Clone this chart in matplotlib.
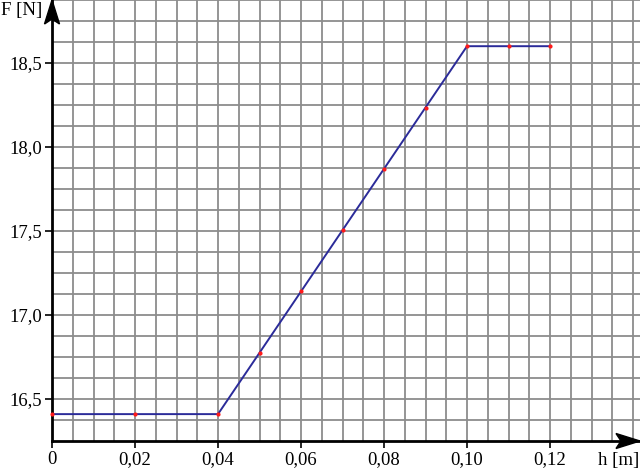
import matplotlib
matplotlib.use("Agg")
import matplotlib.pyplot as plt
from matplotlib.patches import Polygon
import numpy as np

h = [0.00, 0.02, 0.04, 0.05, 0.06, 0.07, 0.08, 0.09, 0.10, 0.11, 0.12]
F = [16.41, 16.41, 16.41, 16.775, 17.14, 17.505, 17.87, 18.235, 18.60, 18.60, 18.60]
xticks = [0, 0.02, 0.04, 0.06, 0.08, 0.10, 0.12]
xlabels = ["0", "0,02", "0,04", "0,06", "0,08", "0,10", "0,12"]
yticks = [16.5, 17.0, 17.5, 18.0, 18.5]
ylabels = ["16,5", "17,0", "17,5", "18,0", "18,5"]

plt.rcParams['font.family'] = ['Liberation Serif', 'DejaVu Serif']
W, H = 640, 472
fig = plt.figure(figsize=(6.4, 4.72), dpi=100)
ax = fig.add_axes([52/W, 31/H, 588/W, 441/H])
xmax = 588/83*0.02
ax.set_xlim(0, xmax)
ax.set_ylim(16.25, 18.875)

for gx in np.arange(0.005, 0.1401, 0.005):
    ax.axvline(gx, color='#8c8c8c', lw=1.3, zorder=1)
for gy in np.arange(16.375, 18.876, 0.125):
    ax.axhline(gy, color='#8c8c8c', lw=1.3, zorder=1)

ax.plot(h, F, color='#2b2b99', lw=1.4, zorder=3)
ax.scatter(h, F, color='#ff1a1a', s=9, zorder=7, linewidths=0, clip_on=False)

ax.set_xticks(xticks)
ax.set_xticklabels(xlabels)
ax.set_yticks(yticks)
ax.set_yticklabels(ylabels)
ax.tick_params(direction='out', length=5, width=1.2, labelsize=13.5, color='black', pad=2)
for s in ['top', 'right']:
    ax.spines[s].set_visible(False)
for s in ['left', 'bottom']:
    ax.spines[s].set_linewidth(2)
    ax.spines[s].set_zorder(5)

def px(pts):
    return [(x / W, 1 - y / H) for x, y in pts]

fig.patches.append(Polygon(px([(52, 0), (44.5, 24), (52, 19), (59.5, 24)]),
                           closed=True, transform=fig.transFigure, color='black', zorder=10))
fig.patches.append(Polygon(px([(640, 441), (616, 433.5), (621, 441), (616, 448.5)]),
                           closed=True, transform=fig.transFigure, color='black', zorder=10))

fig.text(1/W, 1 - 10/H, 'F [N]', fontsize=13.5, va='center', ha='left')
fig.text(639/W, 1 - 461/H, 'h [m]', fontsize=13.5, va='center', ha='right')

fig.savefig('out.png', dpi=100)
